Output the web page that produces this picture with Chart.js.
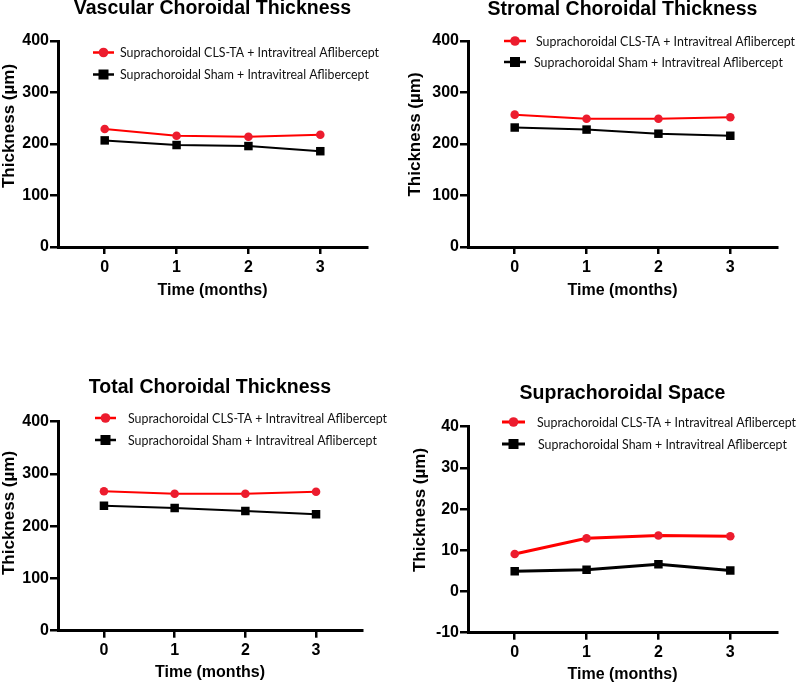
<!DOCTYPE html>
<html><head><meta charset="utf-8">
<script src="https://cdn.jsdelivr.net/npm/chart.js@4/dist/chart.umd.min.js"></script>
<style>
body{margin:0;background:#fff;width:800px;height:685px;position:relative;overflow:hidden}
canvas{position:absolute}
</style></head><body>
<canvas id="c1" width="400" height="315" style="left:0;top:0"></canvas>
<canvas id="c2" width="400" height="315" style="left:400px;top:0"></canvas>
<canvas id="c3" width="400" height="345" style="left:0;top:340px"></canvas>
<canvas id="c4" width="400" height="345" style="left:400px;top:340px"></canvas>
<script>
// ---- data ----
const months = [0, 1, 2, 3];
const seriesLabels = ["Suprachoroidal CLS-TA + Intravitreal Aflibercept", "Suprachoroidal Sham + Intravitreal Aflibercept"];
const panelTitles = ["Vascular Choroidal Thickness", "Stromal Choroidal Thickness", "Total Choroidal Thickness", "Suprachoroidal Space"];
const xAxisTitle = "Time (months)";
const yAxisTitle = "Thickness (µm)";
const vascularCLS = [229, 216, 214, 218];
const vascularSham = [207, 198, 196, 186];
const stromalCLS = [257, 249, 249, 252];
const stromalSham = [232, 228, 220, 216];
const totalCLS = [267, 262, 262, 266];
const totalSham = [239, 235, 229, 223];
const spaceCLS = [9.1, 12.9, 13.6, 13.4];
const spaceSham = [4.9, 5.3, 6.6, 5.1];
const thicknessTicks = [0, 100, 200, 300, 400];
const spaceTicks = [-10, 0, 10, 20, 30, 40];

const BOLD = '"Liberation Sans", Arial, Helvetica, sans-serif';
const LEG = 'Lato, "Open Sans", sans-serif';
const LEG_SIZE = 13.5;

// horizontal squeeze so the legend text matches the reference width
const mctx = document.createElement('canvas').getContext('2d');
mctx.font = LEG_SIZE + 'px ' + LEG;
const legScale = 259 / mctx.measureText(seriesLabels[0]).width;

const extraText = {
  id: 'extraText',
  afterDraw(chart, args, o) {
    const ctx = chart.ctx;
    // y title
    ctx.save();
    ctx.translate(o.yTitle.x, o.yTitle.y);
    ctx.rotate(-Math.PI / 2);
    ctx.font = 'bold 17px ' + BOLD;
    ctx.fillStyle = '#000';
    ctx.textAlign = 'center';
    ctx.textBaseline = 'middle';
    ctx.fillText(yAxisTitle, 0, 0);
    ctx.restore();
    // legend
    chart.data.datasets.forEach((ds, i) => {
      const y = o.leg.rows[i];
      const xm = (o.leg.x0 + o.leg.x1) / 2;
      ctx.save();
      ctx.strokeStyle = ds.borderColor;
      ctx.lineWidth = o.leg.lw;
      ctx.beginPath(); ctx.moveTo(o.leg.x0, y); ctx.lineTo(o.leg.x1, y); ctx.stroke();
      ctx.fillStyle = ds.pointBackgroundColor;
      if (ds.pointStyle === 'rect') {
        ctx.fillRect(xm - 5, y - 5, 10, 10);
      } else {
        ctx.beginPath(); ctx.arc(xm, y, 4.8, 0, Math.PI * 2); ctx.fill();
      }
      ctx.restore();
      ctx.save();
      ctx.fillStyle = '#111';
      ctx.font = LEG_SIZE + 'px ' + LEG;
      ctx.textAlign = 'left';
      ctx.textBaseline = 'middle';
      ctx.translate(o.leg.tx[i], y + 0.5);
      ctx.scale(legScale, 1);
      ctx.fillText(seriesLabels[i], 0, 0);
      ctx.restore();
    });
  }
};

function makePanel(id, p) {
  const W = 400, H = p.H;
  const TS = 19.5;
  const padT = p.titleCY - TS / 2;
  const xH = p.xTitleOff + 9.6;
  const cfg = {
    type: 'line',
    data: {
      datasets: [
        { label: seriesLabels[0], data: months.map((m, i) => ({ x: m, y: p.cls[i] })),
          borderColor: '#ff0000', backgroundColor: '#ec1c2e', pointBackgroundColor: '#ec1c2e',
          pointBorderWidth: 0, pointStyle: 'circle', pointRadius: 4.3, borderWidth: p.lw, tension: 0 },
        { label: seriesLabels[1], data: months.map((m, i) => ({ x: m, y: p.sham[i] })),
          borderColor: '#000000', backgroundColor: '#000000', pointBackgroundColor: '#000000',
          pointBorderWidth: 0, pointStyle: 'rect', pointRadius: 6, borderWidth: p.lw, tension: 0 }
      ]
    },
    options: {
      responsive: false, animation: false, devicePixelRatio: 1,
      layout: { padding: { left: 0, right: W - p.R, top: padT, bottom: H - p.B - xH } },
      plugins: {
        legend: { display: false }, tooltip: { enabled: false },
        title: { display: true, fullSize: false, text: p.title, color: '#000',
          font: { family: BOLD, size: TS, weight: 'bold', lineHeight: 1 },
          padding: { top: 0, bottom: p.T - padT - TS } },
        extraText: { yTitle: p.yTitle, leg: p.leg }
      },
      scales: {
        x: {
          type: 'linear', min: -0.65, max: 3.65,
          afterBuildTicks: s => { s.ticks = months.map(v => ({ value: v })); },
          afterFit: s => { s.height = xH; },
          grid: { drawOnChartArea: false, drawTicks: true, tickLength: 7, color: '#000', lineWidth: 2.5 },
          border: { display: true, color: '#000', width: 3 },
          ticks: { color: '#000', padding: 3.5, font: { family: BOLD, size: 16, weight: 'bold' } },
          title: { display: true, text: xAxisTitle, color: '#000', padding: { top: 0, bottom: 0 },
            font: { family: BOLD, size: 16, weight: 'bold', lineHeight: 1.2 } }
        },
        y: {
          type: 'linear', min: p.ticks[0], max: p.ticks[p.ticks.length - 1],
          afterBuildTicks: s => { s.ticks = p.ticks.map(v => ({ value: v })); },
          afterFit: s => { s.width = p.L; },
          grid: { drawOnChartArea: false, drawTicks: true, tickLength: 8, color: '#000', lineWidth: 2.5 },
          border: { display: true, color: '#000', width: 3 },
          ticks: { color: '#000', padding: 1, font: { family: BOLD, size: 16, weight: 'bold' } }
        }
      }
    },
    plugins: [extraText]
  };
  return new Chart(document.getElementById(id), cfg);
}

makePanel('c1', { H: 315, L: 58, R: 367, T: 41, B: 247, titleCY: 8.5, xTitleOff: 43.5, lw: 2,
  title: panelTitles[0], cls: vascularCLS, sham: vascularSham, ticks: thicknessTicks,
  yTitle: { x: 9, y: 126 }, leg: { x0: 93, x1: 114, rows: [52.5, 74.5], tx: [120, 120], lw: 2.5 } });
makePanel('c2', { H: 315, L: 68, R: 377, T: 41, B: 247, titleCY: 9.5, xTitleOff: 43.5, lw: 2,
  title: panelTitles[1], cls: stromalCLS, sham: stromalSham, ticks: thicknessTicks,
  yTitle: { x: 15.5, y: 134.5 }, leg: { x0: 104, x1: 126, rows: [41, 62], tx: [136, 134], lw: 2.5 } });
makePanel('c3', { H: 345, L: 58, R: 362, T: 81.7, B: 290.7, titleCY: 47.5, xTitleOff: 42, lw: 2,
  title: panelTitles[2], cls: totalCLS, sham: totalSham, ticks: thicknessTicks,
  yTitle: { x: 9.5, y: 173 }, leg: { x0: 95, x1: 116, rows: [78, 100], tx: [128, 128], lw: 2.5 } });
makePanel('c4', { H: 345, L: 68, R: 377, T: 86.7, B: 292.7, titleCY: 54, xTitleOff: 42.3, lw: 3,
  title: panelTitles[3], cls: spaceCLS, sham: spaceSham, ticks: spaceTicks,
  yTitle: { x: 20.5, y: 170 }, leg: { x0: 102, x1: 125, rows: [82, 104], tx: [137, 138], lw: 3 } });
</script>
</body></html>
